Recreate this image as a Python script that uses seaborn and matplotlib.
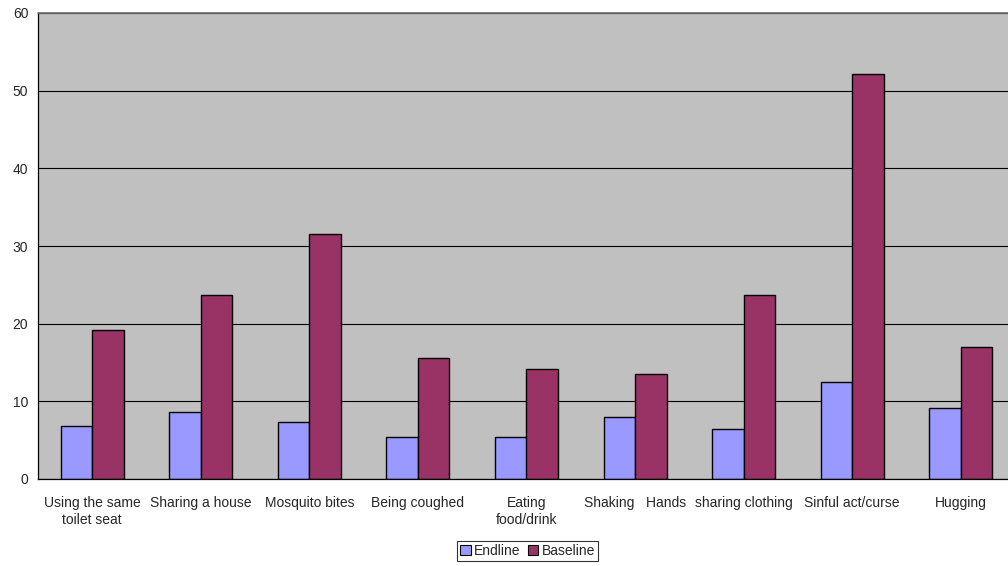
import matplotlib
matplotlib.use("Agg")
import matplotlib.pyplot as plt
import seaborn as sns
import pandas as pd
import numpy as np
from matplotlib.patches import Patch

categories = [
    "Using the same\ntoilet seat",
    "Sharing a house",
    "Mosquito bites",
    "Being coughed",
    "Eating\nfood/drink",
    "Shaking   Hands",
    "sharing clothing",
    "Sinful act/curse",
    "Hugging",
]
endline = [6.8, 8.6, 7.4, 5.4, 5.4, 8.0, 6.4, 12.5, 9.2]
baseline = [19.2, 23.7, 31.5, 15.6, 14.2, 13.5, 23.7, 52.2, 17.0]
series_names = ["Endline", "Baseline"]
colors = ["#9999FF", "#993366"]
yticks = [0, 10, 20, 30, 40, 50, 60]

df = pd.DataFrame({
    "category": categories * 2,
    "series": [series_names[0]] * len(categories) + [series_names[1]] * len(categories),
    "value": endline + baseline,
})

sns.set_style("white")
plt.rcParams["font.family"] = ["Liberation Sans", "DejaVu Sans"]

fig = plt.figure(figsize=(10.08, 5.66), dpi=100)
ax = fig.add_axes([38 / 1008, 87 / 566, 977 / 1008, 466 / 566])
ax.set_facecolor("#C0C0C0")

sns.barplot(data=df, x="category", y="value", hue="series", order=categories,
            hue_order=series_names, palette=colors, width=0.58, saturation=1,
            edgecolor="black", linewidth=1.0, ax=ax, legend=False)

ax.set_xlim(-0.5, len(categories) - 0.5)
ax.set_ylim(0, 60)
ax.set_yticks(yticks)
ax.set_yticklabels([str(t) for t in yticks], fontsize=10)
ax.yaxis.grid(True, color="black", linewidth=0.8)
ax.set_axisbelow(True)

ax.set_xticks(range(len(categories)))
ax.set_xticklabels(categories, fontsize=10, linespacing=1.3)
ax.tick_params(axis="x", which="major", length=0, pad=12)
ax.set_xticks(np.arange(-0.5, len(categories), 1.0), minor=True)
ax.tick_params(axis="x", which="minor", length=5, width=0.8, color="black", direction="out")
ax.tick_params(axis="y", length=4, width=0.8, color="black", direction="out", pad=3)

ax.set_xlabel("")
ax.set_ylabel("")
for side in ["top", "right"]:
    ax.spines[side].set_visible(False)
for side in ["left", "bottom"]:
    ax.spines[side].set_color("black")
    ax.spines[side].set_linewidth(0.9)
# the top gridline at 60 is drawn in grey
ax.axhline(60, color="#707070", linewidth=1.2, zorder=3, clip_on=False)

handles = [Patch(facecolor=c, edgecolor="black", linewidth=0.8) for c in colors]
leg = fig.legend(handles, series_names, loc="center", bbox_to_anchor=(527.5 / 1008, 1 - 551 / 566),
                 ncol=2, fontsize=10, frameon=True, fancybox=False, handlelength=0.75,
                 handleheight=0.75, handletextpad=0.25, columnspacing=0.5, borderpad=0.25,
                 borderaxespad=0)
leg.get_frame().set_edgecolor("black")
leg.get_frame().set_linewidth(0.8)

fig.savefig("out.png", dpi=100)
